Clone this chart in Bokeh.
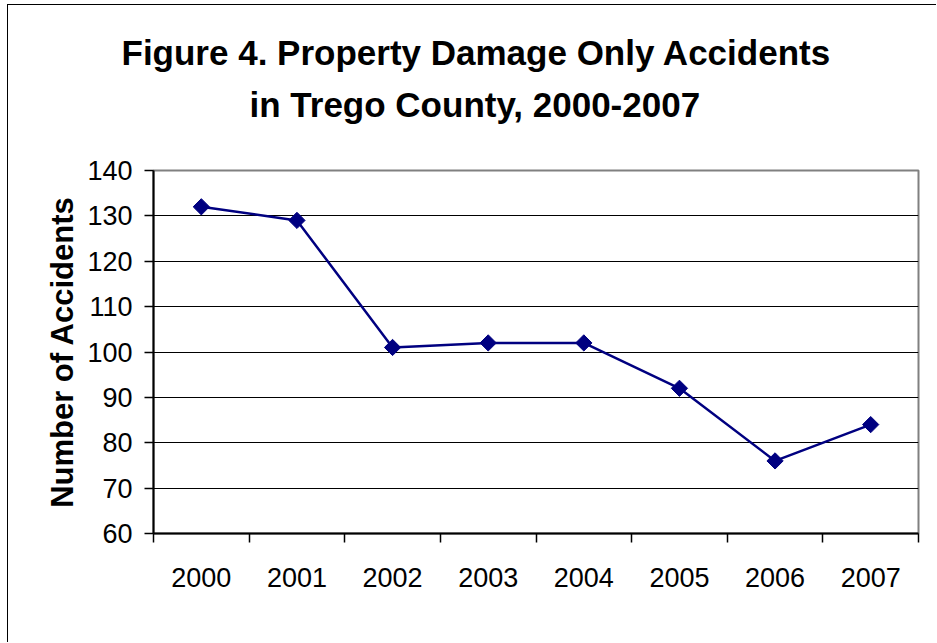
import numpy as np
from bokeh.plotting import figure
from bokeh.models import FixedTicker, Title, Range1d
from bokeh.embed import file_html
from bokeh.resources import INLINE

# ---- data ----
years = ["2000", "2001", "2002", "2003", "2004", "2005", "2006", "2007"]
accidents = [132, 129, 101, 102, 102, 92, 76, 84]
y_ticks = [60, 70, 80, 90, 100, 110, 120, 130, 140]
title_lines = ["Figure 4. Property Damage Only Accidents", "in Trego County, 2000-2007"]
y_label = "Number of Accidents"

n = len(years)
xs = [i + 0.5 for i in range(n)]

FONT = "Liberation Sans"

p = figure(width=929, height=638, output_backend="svg", toolbar_location=None,
           x_range=Range1d(0, n), y_range=Range1d(60, 140),
           min_border_left=145, min_border_right=19, min_border_top=165, min_border_bottom=110)
p.styles = {"margin-left": "7px", "margin-top": "4px",
            "border-left": "1px solid black", "border-top": "1px solid black"}
p.background_fill_color = "white"
p.border_fill_color = "white"
p.outline_line_color = "#808080"
p.outline_line_width = 2

# x axis: labels at category centres, ticks between categories
p.xaxis.ticker = FixedTicker(ticks=xs, minor_ticks=list(range(n + 1)))
p.xaxis.major_label_overrides = {x: y for x, y in zip(xs, years)}
p.xaxis.major_tick_line_color = None
p.xaxis.minor_tick_line_color = "black"
p.xaxis.minor_tick_line_width = 1.5
p.xaxis.minor_tick_in = 0
p.xaxis.minor_tick_out = 9
p.xaxis.axis_line_color = "black"
p.xaxis.axis_line_width = 2
p.xaxis.major_label_text_font = FONT
p.xaxis.major_label_text_font_size = "27px"
p.xaxis.major_label_text_color = "black"
p.xaxis.major_label_standoff = 25

# y axis
p.yaxis.ticker = FixedTicker(ticks=y_ticks)
p.yaxis.major_tick_in = 0
p.yaxis.major_tick_out = 9
p.yaxis.major_tick_line_color = "black"
p.yaxis.major_tick_line_width = 1.5
p.yaxis.minor_tick_line_color = None
p.yaxis.axis_line_color = "black"
p.yaxis.axis_line_width = 2
p.yaxis.major_label_text_font = FONT
p.yaxis.major_label_text_font_size = "27px"
p.yaxis.major_label_text_color = "black"
p.yaxis.major_label_standoff = 12
p.yaxis.axis_label = y_label
p.yaxis.axis_label_text_font = FONT
p.yaxis.axis_label_text_font_style = "bold"
p.yaxis.axis_label_text_font_size = "31px"
p.yaxis.axis_label_text_color = "black"
p.yaxis.axis_label_standoff = 4

p.xgrid.grid_line_color = None
p.ygrid.ticker = FixedTicker(ticks=y_ticks[1:-1])
p.ygrid.grid_line_color = "black"
p.ygrid.grid_line_width = 1

p.line(xs, accidents, line_color="#000080", line_width=2.5)
p.scatter(xs, accidents, marker="square", angle=np.pi / 4, size=11.5,
          fill_color="#000080", line_color="#000080")

# titles: first added sits closest to the plot frame
for txt, so, off in zip(title_lines[::-1], [94, -72], [96, -32]):
    p.add_layout(Title(text=txt, align="left", standoff=so, offset=off,
                       text_font=FONT, text_font_style="bold",
                       text_font_size="35px", text_color="black"), "above")

open("out.html", "w").write(file_html(p, INLINE))
